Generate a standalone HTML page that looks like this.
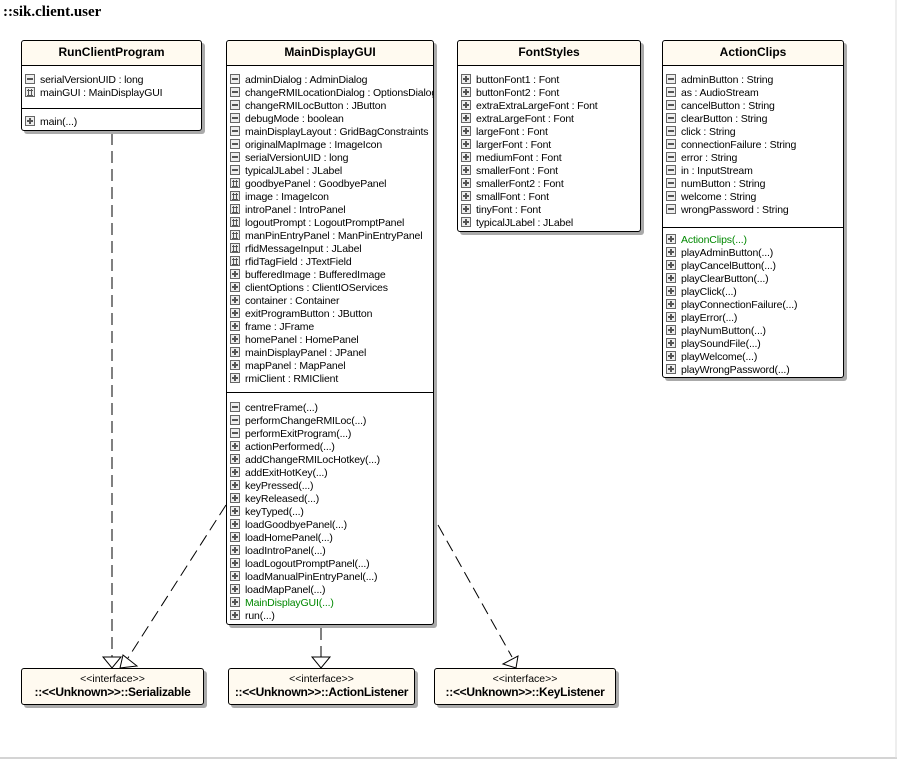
<!DOCTYPE html>
<html><head><meta charset="utf-8"><style>
body{margin:0;width:897px;height:759px;background:#fff;position:relative;overflow:hidden;font-family:"Liberation Sans",sans-serif;}
.t{position:absolute;left:3px;top:4px;font:bold 15px "Liberation Serif",serif;}
.box{position:absolute;background:#fff;border:1px solid #000;border-radius:3px;box-shadow:3px 3px 0 #aaa;box-sizing:border-box;}
.hd{height:24px;background:#fffaf0;border-bottom:1px solid #000;font-weight:bold;font-size:12px;text-align:center;line-height:22px;border-radius:3px 3px 0 0;}
.sec{padding:8px 0 4px 3px;}
.sec+.sec{border-top:1px solid #000;}
.r{height:13px;line-height:13px;font-size:10.5px;letter-spacing:-0.15px;white-space:nowrap;overflow:hidden;}
.i{display:inline-block;width:8px;height:8px;border:1px solid #666;background:#eee;margin-right:5px;vertical-align:-1px;position:relative;}
.m:after{content:"";position:absolute;left:1px;right:1px;top:3px;height:2px;background:#555;}
.p:after{content:"";position:absolute;left:1px;right:1px;top:3px;height:2px;background:#555;}
.p:before{content:"";position:absolute;top:1px;bottom:1px;left:3px;width:2px;background:#555;}
.h:after{content:"";position:absolute;left:1px;right:1px;top:2px;height:4px;border-top:1px solid #555;border-bottom:1px solid #555;}
.h:before{content:"";position:absolute;top:1px;bottom:1px;left:2px;width:2px;border-left:1px solid #555;border-right:1px solid #555;}
.g{color:#080;}
.if{position:absolute;top:668px;height:37px;background:#fffaf0;border:1px solid #000;border-radius:3px;box-shadow:3px 3px 0 #aaa;text-align:center;font-size:10.5px;box-sizing:border-box;overflow:hidden;}
.if b{display:block;font-size:12px;white-space:nowrap;letter-spacing:-0.3px;}
</style></head><body>
<div class="t">::sik.client.user</div>
<svg style="position:absolute;left:0;top:0" width="897" height="759">
<line x1="0" y1="758" x2="897" y2="758" stroke="#aaa"/>
<line x1="896" y1="0" x2="896" y2="758" stroke="#ddd"/>
<g stroke="#000" fill="#fff">
<line x1="112" y1="133" x2="112" y2="657" stroke-dasharray="12,6"/>
<polygon points="103,657 121,657 112,668"/>
<line x1="226" y1="505" x2="128" y2="658" stroke-dasharray="12,6"/>
<polygon points="123,655 137,666 120,668"/>
<line x1="321" y1="628" x2="321" y2="657" stroke-dasharray="12,6"/>
<polygon points="312,657 330,657 321,668"/>
<line x1="438" y1="525" x2="512" y2="657" stroke-dasharray="12,6"/>
<polygon points="503,664 518,656 516,668"/>
</g></svg>

<div class="box" style="left:21px;top:40px;width:181px;height:91px">
<div class="hd">RunClientProgram</div>
<div class="sec" style="height:30px"><div class="r"><span class="i m"></span>serialVersionUID : long</div><div class="r"><span class="i h"></span>mainGUI : MainDisplayGUI</div></div>
<div class="sec" style="padding-top:7px"><div class="r"><span class="i p"></span>main(...)</div></div>
</div>

<div class="box" style="left:226px;top:40px;width:208px;height:585px">
<div class="hd">MainDisplayGUI</div>
<div class="sec" style="height:314px">
<div class="r"><span class="i m"></span>adminDialog : AdminDialog</div>
<div class="r"><span class="i m"></span>changeRMILocationDialog : OptionsDialog</div>
<div class="r"><span class="i m"></span>changeRMILocButton : JButton</div>
<div class="r"><span class="i m"></span>debugMode : boolean</div>
<div class="r"><span class="i m"></span>mainDisplayLayout : GridBagConstraints</div>
<div class="r"><span class="i m"></span>originalMapImage : ImageIcon</div>
<div class="r"><span class="i m"></span>serialVersionUID : long</div>
<div class="r"><span class="i m"></span>typicalJLabel : JLabel</div>
<div class="r"><span class="i h"></span>goodbyePanel : GoodbyePanel</div>
<div class="r"><span class="i h"></span>image : ImageIcon</div>
<div class="r"><span class="i h"></span>introPanel : IntroPanel</div>
<div class="r"><span class="i h"></span>logoutPrompt : LogoutPromptPanel</div>
<div class="r"><span class="i h"></span>manPinEntryPanel : ManPinEntryPanel</div>
<div class="r"><span class="i h"></span>rfidMessageInput : JLabel</div>
<div class="r"><span class="i h"></span>rfidTagField : JTextField</div>
<div class="r"><span class="i p"></span>bufferedImage : BufferedImage</div>
<div class="r"><span class="i p"></span>clientOptions : ClientIOServices</div>
<div class="r"><span class="i p"></span>container : Container</div>
<div class="r"><span class="i p"></span>exitProgramButton : JButton</div>
<div class="r"><span class="i p"></span>frame : JFrame</div>
<div class="r"><span class="i p"></span>homePanel : HomePanel</div>
<div class="r"><span class="i p"></span>mainDisplayPanel : JPanel</div>
<div class="r"><span class="i p"></span>mapPanel : MapPanel</div>
<div class="r"><span class="i p"></span>rmiClient : RMIClient</div>
</div>
<div class="sec" style="padding-top:9px">
<div class="r"><span class="i m"></span>centreFrame(...)</div>
<div class="r"><span class="i m"></span>performChangeRMILoc(...)</div>
<div class="r"><span class="i m"></span>performExitProgram(...)</div>
<div class="r"><span class="i p"></span>actionPerformed(...)</div>
<div class="r"><span class="i p"></span>addChangeRMILocHotkey(...)</div>
<div class="r"><span class="i p"></span>addExitHotKey(...)</div>
<div class="r"><span class="i p"></span>keyPressed(...)</div>
<div class="r"><span class="i p"></span>keyReleased(...)</div>
<div class="r"><span class="i p"></span>keyTyped(...)</div>
<div class="r"><span class="i p"></span>loadGoodbyePanel(...)</div>
<div class="r"><span class="i p"></span>loadHomePanel(...)</div>
<div class="r"><span class="i p"></span>loadIntroPanel(...)</div>
<div class="r"><span class="i p"></span>loadLogoutPromptPanel(...)</div>
<div class="r"><span class="i p"></span>loadManualPinEntryPanel(...)</div>
<div class="r"><span class="i p"></span>loadMapPanel(...)</div>
<div class="r g"><span class="i p"></span>MainDisplayGUI(...)</div>
<div class="r"><span class="i p"></span>run(...)</div>
</div>
</div>

<div class="box" style="left:457px;top:40px;width:184px;height:192px">
<div class="hd">FontStyles</div>
<div class="sec">
<div class="r"><span class="i p"></span>buttonFont1 : Font</div>
<div class="r"><span class="i p"></span>buttonFont2 : Font</div>
<div class="r"><span class="i p"></span>extraExtraLargeFont : Font</div>
<div class="r"><span class="i p"></span>extraLargeFont : Font</div>
<div class="r"><span class="i p"></span>largeFont : Font</div>
<div class="r"><span class="i p"></span>largerFont : Font</div>
<div class="r"><span class="i p"></span>mediumFont : Font</div>
<div class="r"><span class="i p"></span>smallerFont : Font</div>
<div class="r"><span class="i p"></span>smallerFont2 : Font</div>
<div class="r"><span class="i p"></span>smallFont : Font</div>
<div class="r"><span class="i p"></span>tinyFont : Font</div>
<div class="r"><span class="i p"></span>typicalJLabel : JLabel</div>
</div></div>

<div class="box" style="left:662px;top:40px;width:182px;height:338px">
<div class="hd">ActionClips</div>
<div class="sec" style="height:149px">
<div class="r"><span class="i m"></span>adminButton : String</div>
<div class="r"><span class="i m"></span>as : AudioStream</div>
<div class="r"><span class="i m"></span>cancelButton : String</div>
<div class="r"><span class="i m"></span>clearButton : String</div>
<div class="r"><span class="i m"></span>click : String</div>
<div class="r"><span class="i m"></span>connectionFailure : String</div>
<div class="r"><span class="i m"></span>error : String</div>
<div class="r"><span class="i m"></span>in : InputStream</div>
<div class="r"><span class="i m"></span>numButton : String</div>
<div class="r"><span class="i m"></span>welcome : String</div>
<div class="r"><span class="i m"></span>wrongPassword : String</div>
</div>
<div class="sec" style="padding-top:6px">
<div class="r g"><span class="i p"></span>ActionClips(...)</div>
<div class="r"><span class="i p"></span>playAdminButton(...)</div>
<div class="r"><span class="i p"></span>playCancelButton(...)</div>
<div class="r"><span class="i p"></span>playClearButton(...)</div>
<div class="r"><span class="i p"></span>playClick(...)</div>
<div class="r"><span class="i p"></span>playConnectionFailure(...)</div>
<div class="r"><span class="i p"></span>playError(...)</div>
<div class="r"><span class="i p"></span>playNumButton(...)</div>
<div class="r"><span class="i p"></span>playSoundFile(...)</div>
<div class="r"><span class="i p"></span>playWelcome(...)</div>
<div class="r"><span class="i p"></span>playWrongPassword(...)</div>
</div></div>

<div class="if" style="left:21px;width:183px"><div style="margin-top:4px">&lt;&lt;interface&gt;&gt;</div><b>::&lt;&lt;Unknown&gt;&gt;::Serializable</b></div>
<div class="if" style="left:228px;width:187px"><div style="margin-top:4px">&lt;&lt;interface&gt;&gt;</div><b>::&lt;&lt;Unknown&gt;&gt;::ActionListener</b></div>
<div class="if" style="left:434px;width:182px"><div style="margin-top:4px">&lt;&lt;interface&gt;&gt;</div><b>::&lt;&lt;Unknown&gt;&gt;::KeyListener</b></div>
</body></html>
